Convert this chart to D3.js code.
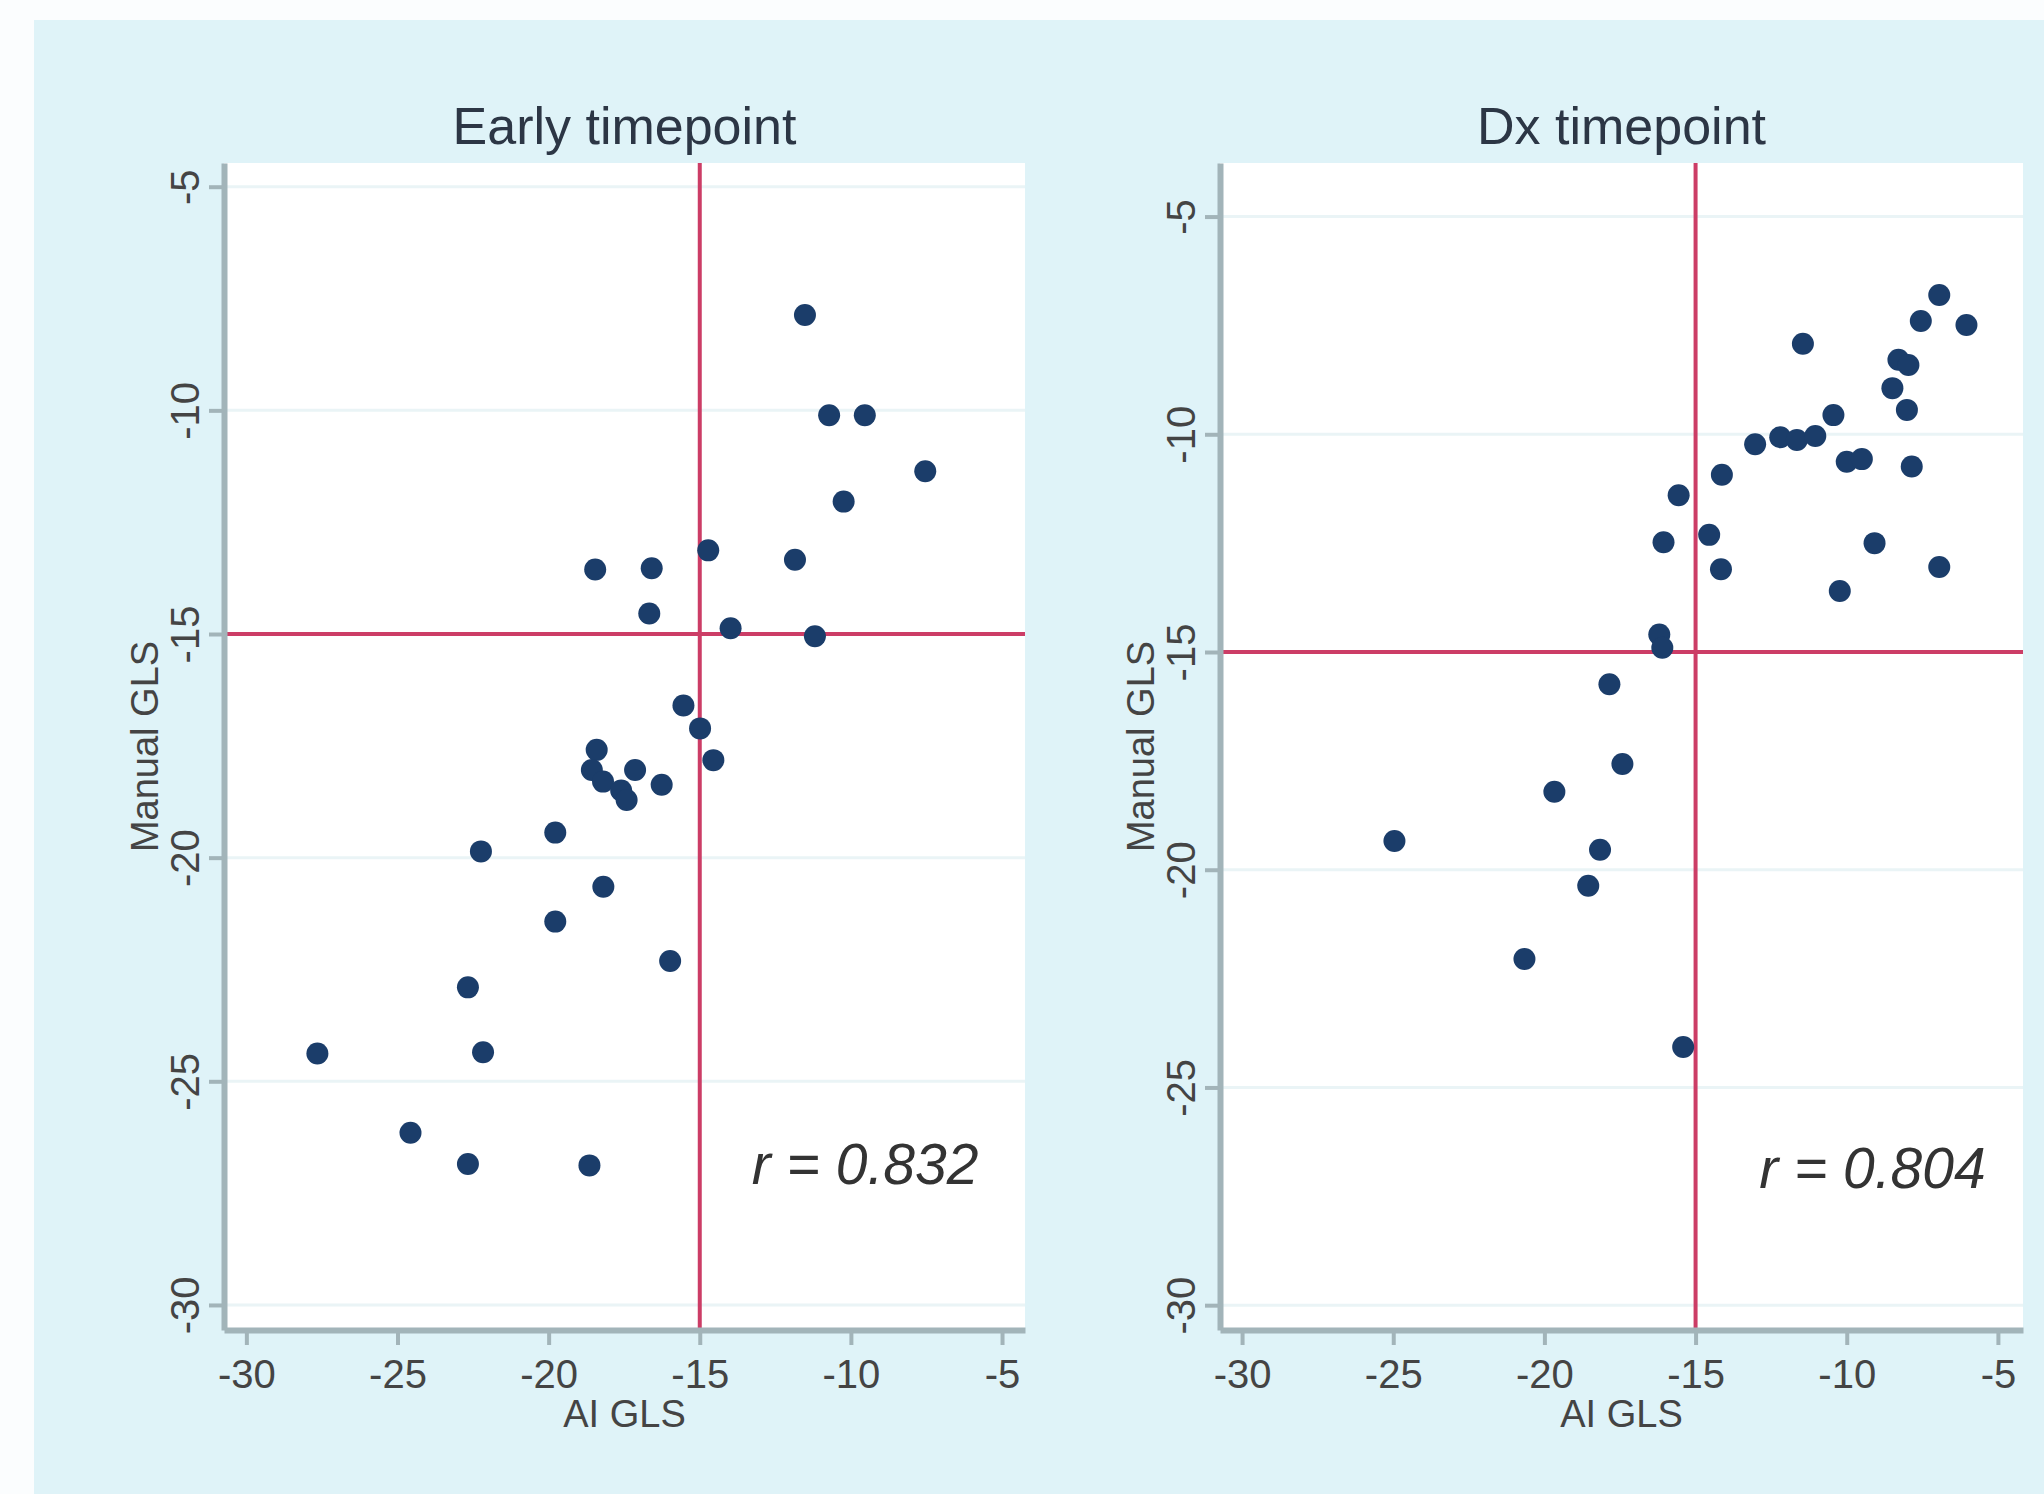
<!DOCTYPE html>
<html>
<head>
<meta charset="utf-8">
<script src="https://cdn.jsdelivr.net/npm/d3@7"></script>
<style>
  body { margin: 0; background: #fff; }
  text { font-family: "Liberation Sans", Arial, sans-serif; }
</style>
</head>
<body>
<div id="chart"></div>
<script>
// panel titles and correlation labels
const titles = ['Early timepoint', 'Dx timepoint'];
const rLabels = ['r = 0.832', 'r = 0.804'];
const xTicks = [-30, -25, -20, -15, -10, -5];
const yTicks = [-30, -25, -20, -15, -10, -5];
const cutoff = -15; // reference lines

// early timepoint (AI vs manual GLS)
const earlyAI = [-11.52, -10.72, -9.54, -7.54, -10.24, -14.72, -11.85, -18.46, -16.59, -16.67, -13.98,
  -11.19, -15.54, -14.99, -14.55, -18.41, -18.57, -18.2, -17.14, -17.6, -17.42, -16.26, -19.78,
  -22.24, -18.19, -19.78, -15.98, -22.67, -27.65, -22.17, -24.57, -22.67, -18.65];
const earlyManual = [-7.87, -10.11, -10.11, -11.36, -12.04, -13.13, -13.34, -13.56, -13.53, -14.54, -14.87,
  -15.05, -16.6, -17.11, -17.82, -17.59, -18.04, -18.3, -18.04, -18.5, -18.71, -18.37, -19.44,
  -19.86, -20.65, -21.43, -22.31, -22.9, -24.38, -24.35, -26.15, -26.85, -26.88];

// diagnosis timepoint
const dxAI = [-6.94, -7.55, -6.04, -11.45, -8.29, -7.96, -8.49, -8.01, -10.44, -13.03, -12.2, -11.65,
  -11.04, -10.0, -9.5, -7.85, -14.13, -15.56, -16.06, -14.55, -9.08, -14.16, -6.94, -10.23, -16.2,
  -16.1, -17.85, -17.42, -19.67, -24.96, -18.16, -18.55, -20.66, -15.41];
const dxManual = [-6.8, -7.4, -7.49, -7.92, -8.29, -8.41, -8.94, -9.44, -9.56, -10.23, -10.07, -10.13,
  -10.04, -10.63, -10.57, -10.74, -10.93, -11.4, -12.48, -12.31, -12.5, -13.1, -13.05, -13.6, -14.6,
  -14.9, -15.74, -17.57, -18.21, -19.34, -19.54, -20.37, -22.05, -24.07];

const W = 2044, H = 1494;

const panels = [
  { title: titles[0], ai: earlyAI, manual: earlyManual, r: rLabels[0],
    box: { x0: 224, x1: 1025, y0: 163, y1: 1330 },
    xDomain: [-30.74, -4.24], yDomain: [-30.56, -4.47], rAt: [-9.53, -27.3] },
  { title: titles[1], ai: dxAI, manual: dxManual, r: rLabels[1],
    box: { x0: 1220, x1: 2023, y0: 163, y1: 1330 },
    xDomain: [-30.73, -4.17], yDomain: [-30.57, -3.77], rAt: [-9.15, -27.3] }
];

const svg = d3.select('#chart').append('svg')
    .attr('width', W)
    .attr('height', H);

svg.append('rect').attr('width', W).attr('height', H).attr('fill', '#fbfdfe');
svg.append('rect')
    .attr('x', 34).attr('y', 20)
    .attr('width', W - 34).attr('height', H - 20)
    .attr('fill', '#dff3f8');

const axisColor = '#a2b4b9';
const plain = d => String(d); // stata style hyphen, not unicode minus

panels.forEach(p => {
    const b = p.box;
    const x = d3.scaleLinear().domain(p.xDomain).range([b.x0, b.x1]);
    const y = d3.scaleLinear().domain(p.yDomain).range([b.y1, b.y0]);

    const g = svg.append('g');

    g.append('rect')
        .attr('x', b.x0).attr('y', b.y0)
        .attr('width', b.x1 - b.x0).attr('height', b.y1 - b.y0)
        .attr('fill', '#fff');

    // faint horizontal grid
    g.append('g').selectAll('line')
        .data(yTicks)
        .enter().append('line')
        .attr('x1', b.x0).attr('x2', b.x1)
        .attr('y1', d => y(d)).attr('y2', d => y(d))
        .attr('stroke', '#eaf4f6')
        .attr('stroke-width', 3);

    // reference lines at -15
    g.append('line')
        .attr('x1', x(cutoff)).attr('x2', x(cutoff))
        .attr('y1', b.y0).attr('y2', b.y1)
        .attr('stroke', '#cc3d66').attr('stroke-width', 4);
    g.append('line')
        .attr('x1', b.x0).attr('x2', b.x1)
        .attr('y1', y(cutoff)).attr('y2', y(cutoff))
        .attr('stroke', '#cc3d66').attr('stroke-width', 4);

    // points
    g.append('g').selectAll('circle')
        .data(p.ai.map((v, i) => [v, p.manual[i]]))
        .enter().append('circle')
        .attr('cx', d => x(d[0]))
        .attr('cy', d => y(d[1]))
        .attr('r', 11)
        .attr('fill', '#1b3d6a');

    // x axis
    const xa = g.append('g')
        .attr('transform', `translate(0,${b.y1})`)
        .call(d3.axisBottom(x).tickValues(xTicks).tickFormat(plain)
            .tickSize(15).tickSizeOuter(0).tickPadding(15));
    xa.selectAll('text')
        .attr('font-size', 40)
        .attr('fill', '#444');

    // y axis, labels rotated
    const ya = g.append('g')
        .attr('transform', `translate(${b.x0},0)`)
        .call(d3.axisLeft(y).tickValues(yTicks).tickFormat(plain)
            .tickSize(15).tickSizeOuter(0));
    ya.selectAll('text')
        .attr('x', 0).attr('y', -25).attr('dy', null)
        .attr('transform', 'rotate(-90)')
        .attr('text-anchor', 'middle')
        .attr('font-size', 40)
        .attr('fill', '#444');

    [xa, ya].forEach(a => {
        a.select('.domain').attr('stroke', axisColor).attr('stroke-width', 6);
        a.selectAll('.tick line').attr('stroke', axisColor).attr('stroke-width', 4);
    });

    const cx = (b.x0 + b.x1) / 2, cy = (b.y0 + b.y1) / 2;

    g.append('text')
        .attr('x', cx).attr('y', 144)
        .attr('text-anchor', 'middle')
        .attr('font-size', 52)
        .attr('fill', '#2c3645')
        .text(p.title);

    g.append('text')
        .attr('x', cx).attr('y', 1427)
        .attr('text-anchor', 'middle')
        .attr('font-size', 38)
        .attr('fill', '#444')
        .text('AI GLS');

    g.append('text')
        .attr('transform', `translate(${b.x0 - 66},${cy}) rotate(-90)`)
        .attr('text-anchor', 'middle')
        .attr('font-size', 38)
        .attr('fill', '#444')
        .text('Manual GLS');

    g.append('text')
        .attr('x', x(p.rAt[0])).attr('y', y(p.rAt[1]))
        .attr('text-anchor', 'middle')
        .attr('font-size', 57)
        .attr('font-style', 'italic')
        .attr('fill', '#333')
        .text(p.r);
});
</script>
</body>
</html>
